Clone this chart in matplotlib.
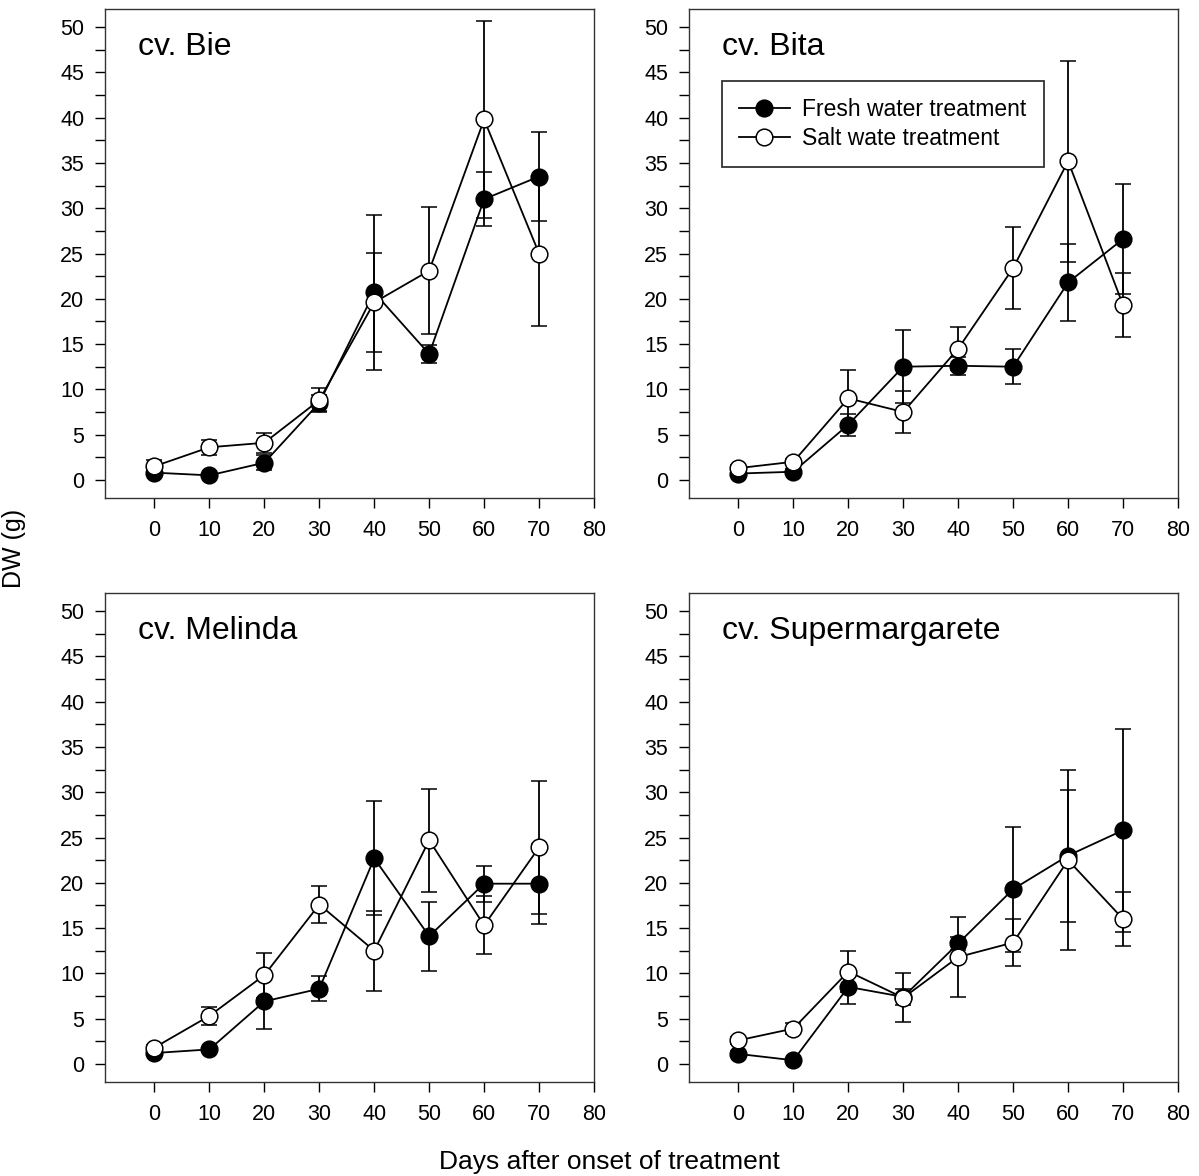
import numpy as np
import matplotlib
matplotlib.use('Agg')
import matplotlib.pyplot as plt
from matplotlib.ticker import MultipleLocator

plt.rcParams['font.family'] = 'Liberation Sans'

days = [0, 10, 20, 30, 40, 50, 60, 70]
cultivars = ['cv. Bie', 'cv. Bita', 'cv. Melinda', 'cv. Supermargarete']

# mean dry weight (g) and error per cultivar
bie_fresh = [0.8, 0.5, 1.9, 8.5, 20.7, 13.9, 31.0, 33.5]
bie_fresh_err = [0.3, 0.2, 0.8, 0.9, 8.6, 1.0, 3.0, 4.9]
bie_salt = [1.5, 3.6, 4.1, 8.8, 19.6, 23.1, 39.8, 25.0]
bie_salt_err = [0.7, 0.8, 1.1, 1.3, 5.5, 7.0, 10.9, 8.0]

bita_fresh = [0.7, 0.9, 6.1, 12.5, 12.6, 12.5, 21.8, 26.6]
bita_fresh_err = [0.3, 0.3, 1.2, 4.0, 1.0, 1.9, 4.3, 6.1]
bita_salt = [1.3, 2.0, 9.0, 7.5, 14.5, 23.4, 35.2, 19.3]
bita_salt_err = [0.3, 0.3, 3.1, 2.3, 2.4, 4.5, 11.1, 3.5]

melinda_fresh = [1.2, 1.6, 6.9, 8.3, 22.7, 14.1, 19.9, 19.9]
melinda_fresh_err = [0.3, 0.3, 3.1, 1.4, 6.3, 3.8, 2.0, 4.4]
melinda_salt = [1.8, 5.3, 9.8, 17.6, 12.5, 24.7, 15.3, 23.9]
melinda_salt_err = [0.3, 1.0, 2.5, 2.0, 4.4, 5.7, 3.2, 7.3]

super_fresh = [1.1, 0.4, 8.5, 7.4, 13.3, 19.3, 23.0, 25.8]
super_fresh_err = [0.3, 0.2, 1.9, 0.9, 0.7, 6.9, 7.3, 11.2]
super_salt = [2.6, 3.9, 10.2, 7.3, 11.8, 13.4, 22.5, 16.0]
super_salt_err = [0.4, 0.6, 2.3, 2.7, 4.4, 2.6, 9.9, 3.0]

fresh = [bie_fresh, bita_fresh, melinda_fresh, super_fresh]
fresh_err = [bie_fresh_err, bita_fresh_err, melinda_fresh_err, super_fresh_err]
salt = [bie_salt, bita_salt, melinda_salt, super_salt]
salt_err = [bie_salt_err, bita_salt_err, melinda_salt_err, super_salt_err]

fig = plt.figure(figsize=(11.99, 11.76), dpi=100)
W, H = 1199, 1176
# axes boxes in pixels: left, top
boxes = [(105, 9), (689, 9), (105, 593), (689, 593)]
size = 489

style = dict(color='black', lw=1.3, ms=12, mew=1.1, capsize=6,
             elinewidth=1.3, capthick=1.3, mec='black')

for i, (lx, ty) in enumerate(boxes):
    ax = fig.add_axes([lx / W, 1 - (ty + size) / H, size / W, size / H])
    ax.errorbar(days, fresh[i], yerr=fresh_err[i], fmt='-o', mfc='black',
                label='Fresh water treatment', zorder=2, **style)
    ax.errorbar(days, salt[i], yerr=salt_err[i], fmt='-o', mfc='white',
                label='Salt wate treatment', zorder=3, **style)
    ax.set_xlim(-9, 80)
    ax.set_ylim(-2, 52)
    ax.xaxis.set_major_locator(MultipleLocator(10))
    ax.yaxis.set_major_locator(MultipleLocator(5))
    ax.yaxis.set_minor_locator(MultipleLocator(2.5))
    ax.tick_params(which='both', direction='out', length=7, width=1,
                   labelsize=15.5, top=False, right=False)
    ax.tick_params(axis='x', pad=9)
    ax.tick_params(axis='y', pad=8)
    for s in ax.spines.values():
        s.set_linewidth(1)
        s.set_color('#333333')
    ax.text(0.068, 0.922, cultivars[i], transform=ax.transAxes,
            fontsize=23, va='center', ha='left')
    if i == 1:
        handles, labels = ax.get_legend_handles_labels()
        handles = [h[0] for h in handles]
        leg = ax.legend(handles, labels, loc='upper left',
                        bbox_to_anchor=(0.0675, 0.853), fontsize=16.5,
                        frameon=True, fancybox=False, borderpad=0.75,
                        handlelength=2.2, handletextpad=0.55,
                        labelspacing=0.25, borderaxespad=0)
        leg.get_frame().set_edgecolor('black')
        leg.get_frame().set_linewidth(1.3)

fig.text(14 / W, 1 - 548 / H, 'DW (g)', rotation=90, fontsize=18,
         ha='center', va='center')
fig.text(609 / W, 1 - 1162 / H, 'Days after onset of treatment',
         fontsize=19, ha='center', va='center')

fig.savefig('out.png', dpi=100)
